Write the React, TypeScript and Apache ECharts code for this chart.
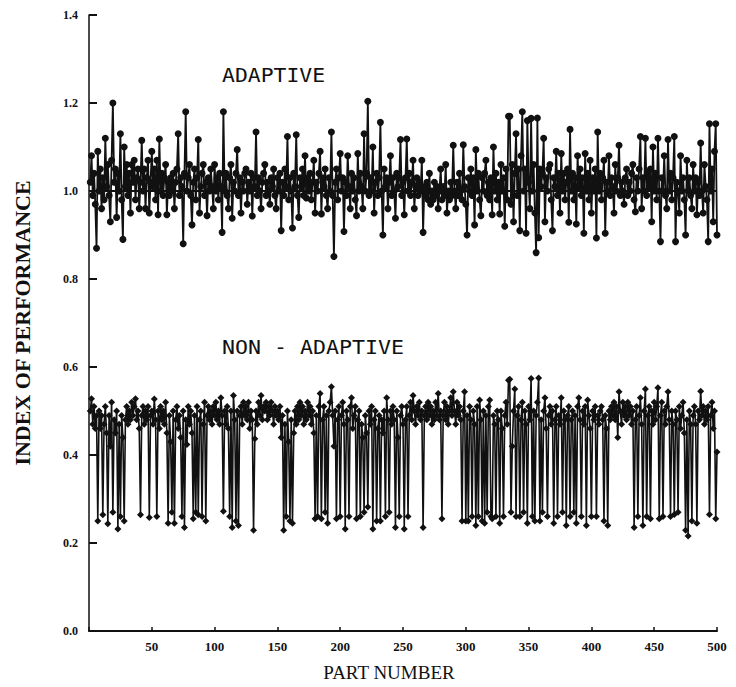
import React, { useEffect, useRef } from "react";
import * as echarts from "echarts";

// Index of performance, ADAPTIVE controller, parts 1..500
const adaptiveValues: number[] = [
  1.02, 1.08, 0.99, 1.04, 0.97, 0.87, 1.09, 1.0, 1.05, 0.96,
  1.03, 0.98, 1.12, 1.01, 1.06, 0.99, 0.93, 1.07, 1.2, 1.02,
  1.05, 0.94, 1.04, 1.0, 1.13, 0.98, 0.89, 1.1, 1.01, 1.06,
  0.99, 1.04, 0.95, 1.06, 1.02, 1.07, 0.98, 1.03, 1.05, 0.96,
  1.02, 1.115, 1.0, 1.05, 0.96, 1.03, 1.07, 0.95, 1.02, 1.09,
  1.01, 1.05, 0.98, 1.07, 0.946, 1.118, 1.0, 1.04, 0.99, 1.03,
  1.06, 0.946, 1.02, 0.99, 1.03, 1.0, 1.04, 0.96, 1.02, 1.05,
  1.13, 0.99, 1.03, 1.01, 0.88, 1.04, 1.18, 1.0, 1.03, 1.06,
  0.99, 0.923, 1.02, 1.05, 0.98, 1.03, 1.117, 0.95, 1.01, 1.04,
  1.06, 0.99, 1.02, 0.944, 1.03, 1.0, 1.05, 1.01, 0.96, 1.06,
  1.0, 1.03, 0.98, 1.04, 1.01, 0.906, 1.18, 1.0, 1.04, 0.99,
  0.96, 1.03, 1.06, 0.938, 1.02, 1.0, 1.04, 1.094, 0.99, 1.03,
  0.95, 1.02, 1.0, 1.04, 1.05, 0.97, 1.02, 1.0, 1.04, 0.943,
  1.03, 1.01, 1.134, 0.99, 1.03, 1.0, 0.96, 1.02, 1.04, 1.06,
  0.99, 1.02, 1.0, 0.97, 1.03, 1.01, 1.05, 0.99, 0.96, 1.03,
  1.0, 1.04, 0.91, 1.02, 0.99, 1.05, 1.01, 1.124, 0.98, 1.03,
  1.0, 0.916, 1.04, 1.01, 1.128, 0.99, 0.94, 1.03, 1.01, 1.05,
  0.99, 1.08, 0.984, 1.03, 1.0, 1.04, 0.98, 1.02, 1.07, 0.95,
  1.02, 1.0, 1.04, 1.09, 0.948, 1.03, 1.01, 1.05, 0.99, 0.96,
  1.03, 1.0, 1.134, 0.99, 0.851, 1.02, 1.05, 0.98, 1.03, 1.085,
  1.0, 1.03, 0.908, 1.02, 0.99, 1.08, 1.01, 0.96, 1.04, 1.0,
  1.03, 0.98, 0.944, 1.085, 1.0, 1.04, 1.01, 0.96, 1.13, 1.0,
  1.04, 1.204, 0.99, 1.03, 1.0, 1.1, 0.95, 1.02, 1.04, 0.99,
  1.03, 1.156, 1.0, 0.9, 1.05, 1.01, 1.03, 0.96, 1.02, 1.08,
  0.99, 1.03, 1.0, 0.938, 1.04, 1.01, 1.03, 1.117, 0.99, 1.02,
  0.946, 1.03, 1.118, 1.0, 1.04, 0.99, 1.02, 1.07, 0.96, 1.01,
  1.03, 0.99, 1.02, 1.0, 1.07, 0.906, 1.01, 0.99, 1.02, 0.98,
  1.04, 0.97, 1.0, 0.98, 1.02, 0.99, 1.01, 0.96, 1.0, 1.05,
  0.98, 1.01, 0.99, 1.06, 0.95, 1.0, 0.98, 1.02, 0.99, 1.104,
  1.0, 0.96, 1.02, 0.99, 1.04, 1.0, 0.98, 1.105, 1.01, 0.97,
  0.9, 1.03, 1.0, 1.05, 0.99, 1.03, 0.923, 1.094, 1.0, 1.04,
  0.98, 0.944, 1.03, 1.0, 1.04, 1.07, 0.99, 1.02, 0.98, 1.03,
  0.946, 1.1, 1.0, 1.04, 0.98, 1.02, 0.948, 1.06, 1.0, 1.03,
  0.92, 1.05, 0.98, 1.17, 1.17, 0.97, 1.06, 0.93, 1.04, 1.13,
  0.99, 1.05, 0.91, 1.08, 1.18, 1.0, 1.05, 0.904, 1.16, 1.02,
  0.96, 1.165, 1.0, 1.06, 0.95, 0.86, 1.166, 0.894, 1.05, 1.01,
  1.04, 1.12, 0.93, 1.03, 1.0, 1.05, 1.06, 0.98, 0.91, 1.03,
  1.01, 1.09, 0.99, 1.04, 0.95, 1.085, 1.0, 1.04, 0.98, 1.02,
  1.05, 0.929, 1.14, 1.0, 1.04, 0.98, 1.03, 0.925, 1.08, 1.01,
  1.05, 0.99, 1.03, 0.904, 1.085, 1.0, 1.04, 0.98, 1.07, 0.95,
  1.03, 1.0, 1.05, 0.893, 1.134, 1.0, 1.04, 0.98, 1.03, 1.07,
  0.904, 1.02, 1.0, 1.08, 0.99, 1.03, 1.01, 0.95, 1.06, 1.0,
  1.03, 1.104, 0.99, 1.02, 1.0, 0.97, 1.03, 1.05, 0.99, 1.02,
  1.0, 1.04, 1.06, 0.98, 0.953, 1.03, 1.0, 1.05, 1.124, 0.96,
  1.03, 1.0, 1.12, 0.99, 1.04, 1.01, 1.05, 0.93, 1.1, 1.0,
  1.04, 0.98, 1.12, 1.0, 0.885, 1.03, 1.0, 1.08, 0.99, 0.96,
  1.117, 1.0, 1.04, 0.98, 1.03, 1.124, 0.885, 1.02, 1.0, 0.95,
  1.08, 1.0, 1.03, 0.98, 0.9, 1.07, 1.0, 1.03, 0.99, 0.96,
  1.06, 1.0, 1.03, 0.946, 1.02, 0.99, 1.109, 1.0, 0.95, 1.06,
  1.01, 0.98, 0.885, 1.153, 1.0, 1.05, 0.93, 1.09, 1.153, 0.9,
];

// Index of performance, NON - ADAPTIVE controller, parts 1..500
const nonAdaptiveValues: number[] = [
  0.5, 0.528, 0.47, 0.51, 0.46, 0.49, 0.25, 0.5, 0.46, 0.49,
  0.264, 0.47, 0.51, 0.45, 0.244, 0.49, 0.42, 0.52, 0.27, 0.48,
  0.45, 0.5, 0.232, 0.47, 0.26, 0.49, 0.44, 0.25, 0.48, 0.51,
  0.47, 0.5, 0.48, 0.52, 0.49, 0.51, 0.528, 0.48, 0.5, 0.46,
  0.264, 0.49, 0.51, 0.47, 0.5, 0.48, 0.51, 0.258, 0.49, 0.5,
  0.47, 0.527, 0.48, 0.26, 0.5, 0.46, 0.51, 0.48, 0.5, 0.47,
  0.52, 0.45, 0.245, 0.49, 0.43, 0.27, 0.5, 0.245, 0.48, 0.51,
  0.46, 0.49, 0.44, 0.26, 0.5, 0.235, 0.48, 0.424, 0.51, 0.47,
  0.5, 0.45, 0.255, 0.49, 0.27, 0.51, 0.264, 0.48, 0.5, 0.26,
  0.47, 0.52, 0.25, 0.49, 0.51, 0.48, 0.5, 0.47, 0.51, 0.49,
  0.52, 0.48, 0.5, 0.47, 0.53, 0.49, 0.272, 0.5, 0.47, 0.51,
  0.46, 0.26, 0.5, 0.235, 0.535, 0.48, 0.25, 0.5, 0.24, 0.49,
  0.51, 0.47, 0.52, 0.49, 0.51, 0.48, 0.52, 0.46, 0.5, 0.48,
  0.229, 0.437, 0.5, 0.47, 0.52, 0.49, 0.535, 0.48, 0.51, 0.5,
  0.52, 0.48, 0.51, 0.49, 0.52, 0.5, 0.47, 0.51, 0.49, 0.5,
  0.48, 0.51, 0.44, 0.49, 0.229, 0.47, 0.26, 0.5, 0.43, 0.25,
  0.48, 0.245, 0.45, 0.5, 0.47, 0.51, 0.48, 0.52, 0.49, 0.51,
  0.47, 0.5, 0.48, 0.52, 0.49, 0.51, 0.47, 0.5, 0.45, 0.255,
  0.49, 0.26, 0.51, 0.54, 0.255, 0.48, 0.51, 0.27, 0.49, 0.245,
  0.5, 0.52, 0.555, 0.49, 0.42, 0.5, 0.255, 0.48, 0.51, 0.26,
  0.49, 0.52, 0.47, 0.232, 0.5, 0.48, 0.26, 0.51, 0.53, 0.46,
  0.49, 0.51, 0.255, 0.48, 0.5, 0.26, 0.47, 0.44, 0.27, 0.49,
  0.45, 0.282, 0.5, 0.47, 0.51, 0.232, 0.48, 0.5, 0.25, 0.46,
  0.49, 0.25, 0.48, 0.45, 0.5, 0.26, 0.53, 0.48, 0.27, 0.5,
  0.47, 0.51, 0.48, 0.235, 0.5, 0.44, 0.26, 0.49, 0.51, 0.47,
  0.232, 0.48, 0.51, 0.26, 0.49, 0.52, 0.48, 0.535, 0.5, 0.47,
  0.51, 0.49, 0.52, 0.48, 0.5, 0.235, 0.49, 0.51, 0.48, 0.52,
  0.49, 0.51, 0.47, 0.5, 0.48, 0.52, 0.49, 0.54, 0.48, 0.5,
  0.255, 0.49, 0.52, 0.48, 0.51, 0.47, 0.5, 0.53, 0.49, 0.544,
  0.5, 0.47, 0.52, 0.49, 0.51, 0.48, 0.25, 0.5, 0.544, 0.25,
  0.49, 0.25, 0.51, 0.48, 0.26, 0.5, 0.47, 0.24, 0.51, 0.26,
  0.525, 0.48, 0.25, 0.5, 0.245, 0.49, 0.27, 0.51, 0.525, 0.26,
  0.255, 0.49, 0.47, 0.26, 0.5, 0.48, 0.245, 0.5, 0.46, 0.26,
  0.49, 0.52, 0.47, 0.57, 0.572, 0.27, 0.42, 0.5, 0.55, 0.26,
  0.49, 0.51, 0.26, 0.48, 0.52, 0.27, 0.5, 0.47, 0.245, 0.51,
  0.48, 0.574, 0.26, 0.5, 0.25, 0.49, 0.52, 0.575, 0.25, 0.48,
  0.27, 0.5, 0.53, 0.46, 0.26, 0.49, 0.51, 0.47, 0.5, 0.245,
  0.48, 0.51, 0.26, 0.49, 0.47, 0.53, 0.27, 0.5, 0.48, 0.24,
  0.49, 0.51, 0.26, 0.48, 0.5, 0.27, 0.49, 0.245, 0.51, 0.53,
  0.48, 0.26, 0.5, 0.47, 0.51, 0.24, 0.525, 0.49, 0.46, 0.26,
  0.5, 0.48, 0.51, 0.26, 0.49, 0.47, 0.5, 0.51, 0.48, 0.25,
  0.49, 0.46, 0.24, 0.5, 0.48, 0.51, 0.49, 0.52, 0.48, 0.51,
  0.44, 0.544, 0.5, 0.47, 0.52, 0.49, 0.51, 0.48, 0.52, 0.49,
  0.51, 0.47, 0.5, 0.235, 0.48, 0.51, 0.26, 0.49, 0.53, 0.47,
  0.24, 0.5, 0.55, 0.26, 0.49, 0.51, 0.255, 0.5, 0.47, 0.52,
  0.48, 0.51, 0.553, 0.255, 0.49, 0.52, 0.26, 0.5, 0.47, 0.51,
  0.544, 0.48, 0.26, 0.5, 0.47, 0.265, 0.5, 0.48, 0.27, 0.51,
  0.46, 0.49, 0.52, 0.45, 0.229, 0.48, 0.216, 0.5, 0.47, 0.25,
  0.49, 0.51, 0.47, 0.245, 0.5, 0.48, 0.545, 0.49, 0.51, 0.47,
  0.5, 0.48, 0.51, 0.265, 0.49, 0.52, 0.46, 0.5, 0.255, 0.407,
];

const xTickValues = [50, 100, 150, 200, 250, 300, 350, 400, 450, 500];
const yTickValues = [0.0, 0.2, 0.4, 0.6, 0.8, 1.0, 1.2, 1.4];
const targetLevel = 1.0;
const seriesLabels = ["ADAPTIVE", "NON - ADAPTIVE"];
const axisTitles = { x: "PART NUMBER", y: "INDEX OF PERFORMANCE" };

const INK = "#111111";

export default function App() {
  const ref = useRef<HTMLDivElement>(null);

  useEffect(() => {
    if (!ref.current) return;
    const chart = echarts.init(ref.current, undefined, { renderer: "svg" });

    const adaptiveData = adaptiveValues.map((v, i) => [i + 1, v]);
    const nonAdaptiveData = nonAdaptiveValues.map((v, i) => [i + 1, v]);

    chart.setOption({
      animation: false,
      backgroundColor: "#ffffff",
      grid: { left: 89, right: 19, top: 15, bottom: 55, containLabel: false },
      xAxis: {
        type: "value",
        min: 0,
        max: 500,
        interval: 50,
        axisLine: { show: true, lineStyle: { color: INK, width: 2 } },
        axisTick: { show: true, inside: true, length: 4, lineStyle: { color: INK, width: 1.5 } },
        splitLine: { show: false },
        axisLabel: {
          margin: 9,
          color: INK,
          fontFamily: "Liberation Serif",
          fontWeight: "bold",
          fontSize: 13,
          formatter: (v: number) => (xTickValues.includes(v) ? String(v) : ""),
        },
        name: axisTitles.x,
        nameLocation: "middle",
        nameGap: 32,
        nameTextStyle: {
          color: INK,
          fontFamily: "Liberation Serif",
          fontSize: 19,
          padding: [0, 28, 0, 0],
        },
      },
      yAxis: {
        type: "value",
        min: 0,
        max: 1.4,
        interval: 0.2,
        axisLine: { show: true, lineStyle: { color: INK, width: 1.5 } },
        axisTick: { show: true, inside: true, length: 8, lineStyle: { color: INK, width: 2 } },
        splitLine: { show: false },
        axisLabel: {
          margin: 11,
          color: INK,
          fontFamily: "Liberation Serif",
          fontWeight: "bold",
          fontSize: 12,
          formatter: (v: number) => {
            const hit = yTickValues.find((t) => Math.abs(t - v) < 1e-6);
            return hit === undefined ? "" : hit.toFixed(1);
          },
        },
        name: axisTitles.y,
        nameLocation: "middle",
        nameGap: 56,
        nameTextStyle: { color: INK, fontFamily: "Liberation Serif", fontWeight: "bold", fontSize: 22 },
      },
      graphic: [
        {
          type: "text",
          x: 222,
          y: 65,
          scaleX: 1.07,
          style: { text: seriesLabels[0], fill: INK, font: "20px 'DejaVu Sans Mono'" },
        },
        {
          type: "text",
          x: 222,
          y: 337,
          scaleX: 1.08,
          style: { text: seriesLabels[1], fill: INK, font: "20px 'DejaVu Sans Mono'" },
        },
      ],
      series: [
        {
          name: seriesLabels[0],
          type: "line",
          data: adaptiveData,
          showAllSymbol: true,
          symbol: "circle",
          symbolSize: 7,
          itemStyle: { color: INK },
          lineStyle: { color: INK, width: 1.8 },
          silent: true,
          markLine: {
            silent: true,
            symbol: "none",
            label: { show: false },
            lineStyle: { color: INK, width: 1.8, type: "solid" },
            data: [{ yAxis: targetLevel }],
          },
        },
        {
          name: seriesLabels[1],
          type: "line",
          data: nonAdaptiveData,
          showAllSymbol: true,
          symbol: "diamond",
          symbolSize: 7,
          itemStyle: { color: INK },
          lineStyle: { color: INK, width: 1.6 },
          silent: true,
        },
      ],
    });

    return () => chart.dispose();
  }, []);

  return (
    <div
      ref={ref}
      style={{ position: "absolute", left: 0, top: 0, width: 736, height: 687 }}
    />
  );
}
